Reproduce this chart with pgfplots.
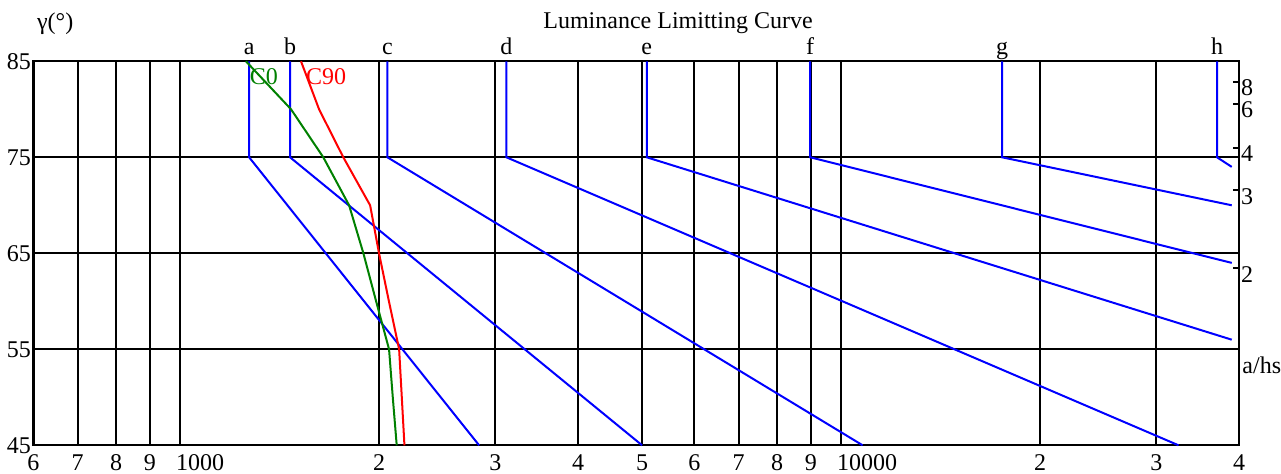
\documentclass[border=0pt]{standalone}
\usepackage{fontspec}
\setmainfont{Liberation Serif}
\usepackage{pgfplots}
\pgfplotsset{compat=1.18}
\definecolor{cgreen}{RGB}{0,128,0}
\begin{document}
\begin{tikzpicture}
\path[use as bounding box] (-16.7pt,-14.35pt) rectangle (623.8pt,222.65pt);
\begin{axis}[
  at={(0pt,0pt)}, anchor=south west,
  scale only axis, width=602.8pt, height=192pt,
  xmode=log, xmin=600, xmax=40000, ymin=45, ymax=85,
  xtick={600,700,800,900,2000,3000,4000,5000,6000,7000,8000,9000,20000,30000,40000},
  xticklabels={6,7,8,9,2,3,4,5,6,7,8,9,2,3,4},
  extra x ticks={1000,10000},
  extra x tick labels={1000,10000},
  extra x tick style={grid=major, xticklabel style={anchor=north west, xshift=-5.5pt}},
  minor xtick={},
  ytick={45,55,65,75,85},
  grid=major,
  major grid style={black, line width=1pt},
  axis line style={black, line width=1.2pt},
  major tick length=0pt,
  tick label style={font=\fontsize{12}{14}\selectfont},
  /pgf/number format/assume math mode=true,
  xticklabel style={yshift=-1pt},
  yticklabel style={xshift=2.3pt},
  clip=false,
]
\addplot[blue, line width=1pt] coordinates {(1272,85) (1272,75) (2834,45)};
\addplot[blue, line width=1pt] coordinates {(1467,85) (1467,75) (5000,45)};
\addplot[blue, line width=1pt] coordinates {(2059,85) (2059,75) (10780,45)};
\addplot[blue, line width=1pt] coordinates {(3117,85) (3117,75) (32400,45)};
\addplot[blue, line width=1pt] coordinates {(5082,85) (5082,75) (39000,56)};
\addplot[blue, line width=1pt] coordinates {(8980,85) (8980,75) (39000,64)};
\addplot[blue, line width=1pt] coordinates {(17520,85) (17520,75) (39000,70)};
\addplot[blue, line width=1pt] coordinates {(37050,85) (37050,75) (39000,74)};
\addplot[cgreen, line width=1pt] coordinates {(1258,85) (1472,80) (1647,75) (1802,70) (1894,65) (1980,60) (2071,55) (2098,50) (2127,45)};
\addplot[red, line width=1pt] coordinates {(1524,85) (1623,80) (1766,75) (1939,70) (2000,65) (2070,60) (2145,55) (2165,50) (2185,45)};
\begin{scope}[every node/.style={font=\fontsize{12}{14}\selectfont, inner sep=0pt}]
\node[anchor=base, yshift=3.15pt] at (axis cs:1272,85) {a};
\node[anchor=base, yshift=3.15pt] at (axis cs:1467,85) {b};
\node[anchor=base, yshift=3.15pt] at (axis cs:2059,85) {c};
\node[anchor=base, yshift=3.15pt] at (axis cs:3117,85) {d};
\node[anchor=base, yshift=3.15pt] at (axis cs:5082,85) {e};
\node[anchor=base, yshift=3.15pt] at (axis cs:8980,85) {f};
\node[anchor=base, yshift=3.15pt] at (axis cs:17520,85) {g};
\node[anchor=base, yshift=3.15pt] at (axis cs:37050,85) {h};
\node[anchor=base, yshift=16.5pt] at (axis cs:5667,85) {Luminance Limitting Curve};
\node[anchor=base west, xshift=1.65pt, yshift=15.65pt] at (rel axis cs:0,1) {γ(°)};
\node[anchor=base west, text=cgreen] at (axis cs:1273,82.53) {C0};
\node[anchor=base west, text=red] at (axis cs:1549,82.53) {C90};
\node[anchor=west, xshift=1.5pt] at (axis cs:40000,53.3) {a/hs};
\end{scope}
\end{axis}
\begin{axis}[
  at={(0pt,0pt)}, anchor=south west,
  scale only axis, width=602.8pt, height=192pt,
  xmin=0, xmax=1, ymin=45, ymax=85,
  axis x line=none, axis y line*=right,
  ytick={82.875,80.5377,75.9638,71.5651,63.4349},
  yticklabels={8,6,4,3,2},
  tick align=inside,
  major tick length=3pt,
  tick style={black, line width=1pt},
  axis line style={black, line width=1.2pt},
  tick label style={font=\fontsize{12}{14}\selectfont},
  /pgf/number format/assume math mode=true,
  yticklabel style={xshift=-2.5pt, yshift=-3pt},
]
\addplot[draw=none] coordinates {(0,45)};
\end{axis}
\end{tikzpicture}
\end{document}
